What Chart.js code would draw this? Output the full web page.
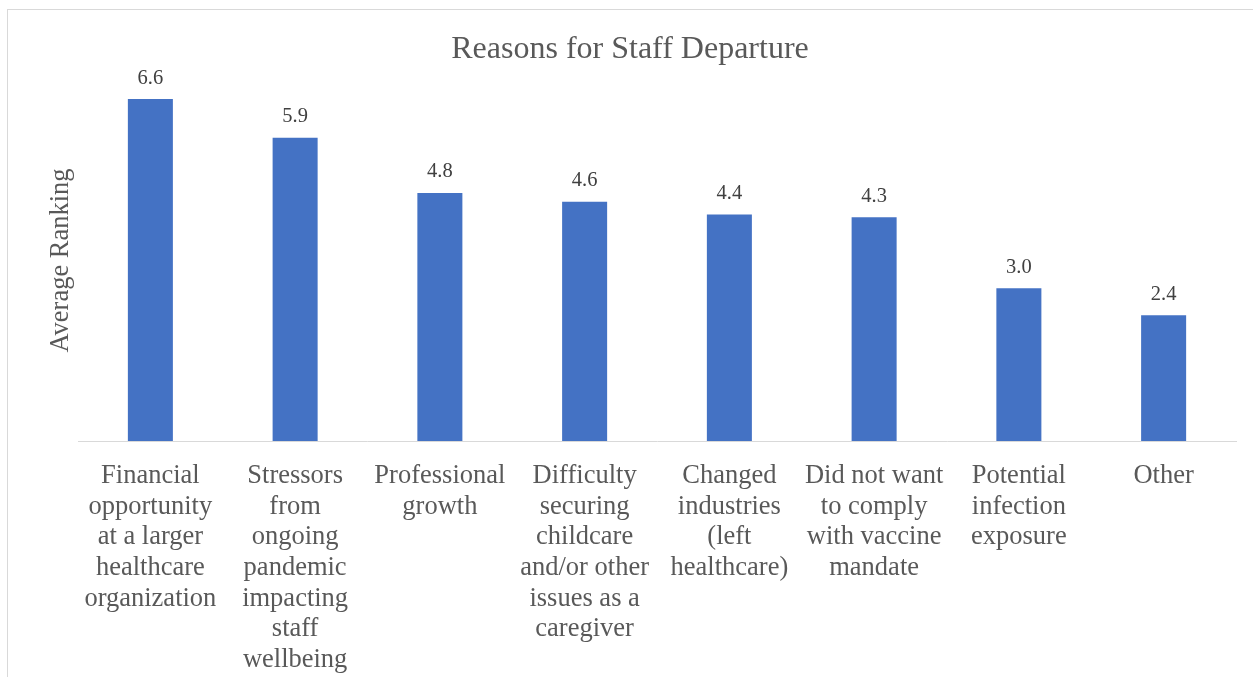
<!DOCTYPE html>
<html>
<head>
<meta charset="utf-8">
<script src="https://cdn.jsdelivr.net/npm/chart.js@4/dist/chart.umd.min.js"></script>
<style>
  html, body { margin: 0; padding: 0; background: #ffffff; overflow: hidden; }
  #wrap { position: absolute; left: 0; top: 0; width: 1253px; height: 677px; }
  #frame { position: absolute; left: 7px; top: 9px; width: 1300px; height: 800px; border: 1px solid #d9d9d9; box-sizing: border-box; }
  canvas { position: absolute; left: 0; top: 0; }
</style>
</head>
<body>
<div id="wrap">
  <div id="frame"></div>
  <canvas id="c" width="1253" height="677"></canvas>
</div>
<script>
const chartTitle = "Reasons for Staff Departure";
const yAxisTitle = "Average Ranking";
const categories = [
  ["Financial", "opportunity", "at a larger", "healthcare", "organization"],
  ["Stressors", "from", "ongoing", "pandemic", "impacting", "staff", "wellbeing"],
  ["Professional", "growth"],
  ["Difficulty", "securing", "childcare", "and/or other", "issues as a", "caregiver"],
  ["Changed", "industries", "(left", "healthcare)"],
  ["Did not want", "to comply", "with vaccine", "mandate"],
  ["Potential", "infection", "exposure"],
  ["Other"]
];
const values = [6.63, 5.88, 4.81, 4.64, 4.39, 4.34, 2.96, 2.44];

const SERIF = '"Liberation Serif", "Times New Roman", serif';

const dataLabels = {
  id: 'dataLabels',
  afterDatasetsDraw(chart) {
    const ctx = chart.ctx;
    const meta = chart.getDatasetMeta(0);
    ctx.save();
    ctx.font = '20.5px ' + SERIF;
    ctx.fillStyle = '#404040';
    ctx.textAlign = 'center';
    ctx.textBaseline = 'alphabetic';
    meta.data.forEach((bar, i) => {
      ctx.fillText(values[i].toFixed(1), bar.x, bar.y - 15.5);
    });
    ctx.restore();
  }
};

new Chart(document.getElementById('c'), {
  type: 'bar',
  data: {
    labels: categories,
    datasets: [{
      data: values,
      backgroundColor: '#4472C4',
      borderWidth: 0,
      categoryPercentage: 1,
      barPercentage: 0.311
    }]
  },
  plugins: [dataLabels],
  options: {
    responsive: false,
    animation: false,
    devicePixelRatio: 1,
    layout: { padding: { left: 7, right: 0, top: 9, bottom: 0 } },
    plugins: {
      legend: { display: false },
      tooltip: { enabled: false },
      title: {
        display: true,
        text: chartTitle,
        color: '#595959',
        font: { family: SERIF, size: 32, weight: 'normal', lineHeight: 1.2 },
        padding: { top: 21.8, bottom: 10.8 }
      }
    },
    scales: {
      x: {
        grid: { display: false, drawTicks: false },
        border: { display: true, color: '#d9d9d9', width: 1 },
        ticks: {
          color: '#595959',
          font: { family: SERIF, size: 26.5, lineHeight: 1.155 },
          padding: 20,
          maxRotation: 0,
          minRotation: 0,
          autoSkip: false
        },
        afterFit(scale) { scale.height = 236; }
      },
      y: {
        min: 0,
        max: 7,
        grid: { display: false, drawTicks: false },
        border: { display: false },
        ticks: { display: false },
        title: {
          display: true,
          text: yAxisTitle,
          color: '#595959',
          font: { family: SERIF, size: 26.5, lineHeight: 1.2 },
          padding: { top: 38, bottom: 0 }
        },
        afterFit(scale) { scale.width = 71; }
      },
      yRight: {
        position: 'right',
        min: 0,
        max: 7,
        grid: { display: false, drawTicks: false },
        border: { display: false },
        ticks: { display: false },
        afterFit(scale) { scale.width = 17; }
      }
    }
  }
});
</script>
</body>
</html>
